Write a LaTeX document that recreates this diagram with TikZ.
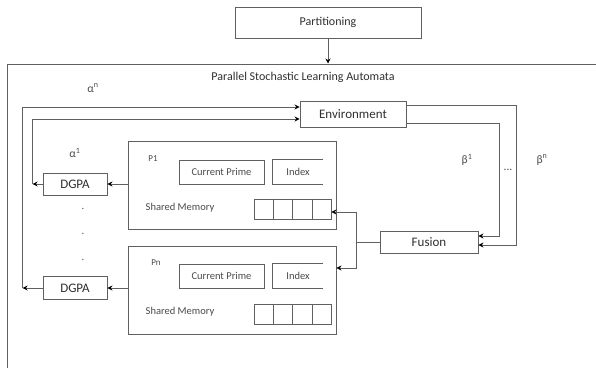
\documentclass[tikz,border=0pt]{standalone}
\usepackage{fontspec}
\setmainfont{Carlito}
\usetikzlibrary{arrows.meta,calc}
\definecolor{linegray}{HTML}{606060}
\definecolor{txt}{HTML}{303030}
\definecolor{txtl}{HTML}{4A4A4A}
\begin{document}
\begin{tikzpicture}[x=1pt,y=-1pt,
  box/.style={draw=linegray, line width=0.9pt, inner sep=0pt, text=txt},
  conn/.style={draw=linegray, line width=0.9pt},
  arr/.style={conn, -{Stealth[length=5pt,width=5pt,black]}},
  bigf/.style={font=\fontsize{13}{15}\selectfont},
  midf/.style={font=\fontsize{12}{14}\selectfont},
  smf/.style={font=\fontsize{10.5}{12}\selectfont, text=txtl},
  tinyf/.style={font=\fontsize{9}{10}\selectfont, text=txtl},
  lab/.style={font=\fontsize{11.5}{13}\selectfont, text=txtl, inner sep=0pt}]
\useasboundingbox (0,0) rectangle (596,367);
\fill[white] (0,0) rectangle (596,367);
% outer frame (right and bottom sides fall outside the picture)
\begin{scope}
  \clip (0,0) rectangle (596,367);
  \node[draw=linegray, line width=1pt, inner sep=0pt, minimum width=610pt, minimum height=320pt] (outer) at (312,224) {};
\end{scope}
\node[box, midf, minimum width=186pt, minimum height=31pt] (part) at (328,22.5) {Partitioning};
\node[text=txt, midf] (title) at (303,77) {Parallel Stochastic Learning Automata};
\node[box, bigf, minimum width=106pt, minimum height=26pt] (env) at (353,114) {Environment};
% P1
\node[box, minimum width=208pt, minimum height=88pt] (p1) at (232,185) {};
\node[tinyf] (p1lab) at (153,159) {P1};
\node[box, smf, minimum width=85pt, minimum height=24pt] (cp1) at (221.5,172) {Current Prime};
\node[smf, inner sep=0pt, minimum width=50pt, minimum height=24pt] (ix1) at (298,172) {Index};
\draw[conn] (ix1.north east) -- (ix1.north west) -- (ix1.south west) -- (ix1.south east);
\node[smf] (sm1) at (180,208) {Shared Memory};
\node[box, minimum width=77pt, minimum height=20pt] (mem1) at (292.5,209) {};
\foreach \f in {0.25,0.5,0.75}
  \draw[conn] ($(mem1.north west)!\f!(mem1.north east)$) -- ($(mem1.south west)!\f!(mem1.south east)$);
% Pn
\node[box, minimum width=208pt, minimum height=88pt] (pn) at (232,290) {};
\node[tinyf] (pnlab) at (156,263) {Pn};
\node[box, smf, minimum width=85pt, minimum height=24pt] (cpn) at (221.5,276) {Current Prime};
\node[smf, inner sep=0pt, minimum width=50pt, minimum height=24pt] (ixn) at (298,276) {Index};
\draw[conn] (ixn.north east) -- (ixn.north west) -- (ixn.south west) -- (ixn.south east);
\node[smf] (smn) at (180,312) {Shared Memory};
\node[box, minimum width=77pt, minimum height=20pt] (memn) at (292.5,314.5) {};
\foreach \f in {0.25,0.5,0.75}
  \draw[conn] ($(memn.north west)!\f!(memn.north east)$) -- ($(memn.south west)!\f!(memn.south east)$);
% DGPA
\node[box, bigf, minimum width=64pt, minimum height=22pt] (dgpa1) at (75,184) {DGPA};
\node[box, bigf, minimum width=64pt, minimum height=23pt] (dgpan) at (75,288) {DGPA};
\node[smf] (d1) at (83,209) {.};
\node[smf] (d2) at (83,234) {.};
\node[smf] (d3) at (83,260) {.};
% Fusion
\node[box, bigf, minimum width=98pt, minimum height=22pt] (fusion) at (429,242) {Fusion};
% labels
\node[lab] (an) at (93,88) {α\textsuperscript{n}};
\node[lab] (a1) at (75,153) {α\textsuperscript{1}};
\node[lab] (b1) at (467,160) {β\textsuperscript{1}};
\node[lab] (bn) at (542,160) {β\textsuperscript{n}};
\node[lab] (ell) at (508,170) {...};
% connectors
\draw[arr] (part.south) -- (part.south |- outer.north);
\draw[arr] (dgpa1.east -| p1.west) -- (dgpa1.east);
\draw[arr] (dgpan.east -| pn.west) -- (dgpan.east);
\coordinate (c1) at ($(dgpa1.west)+(-10,0)$);
\coordinate (cn) at ($(dgpan.west)+(-20,0)$);
\draw[arr] (dgpa1.west) -- (c1);
\draw[arr] (dgpan.west) -- (cn);
\draw[arr] (c1) |- ([yshift=-5pt]env.west);
\draw[arr] (cn) |- ([yshift=7pt]env.west);
\coordinate (eo) at ([yshift=9pt]env.east);
\coordinate (ei) at ([yshift=-9pt]env.east);
\coordinate (fo) at ([yshift=-3pt]fusion.east);
\coordinate (fi) at ([yshift=6pt]fusion.east);
\coordinate (ro) at (516,0);
\coordinate (ri) at (499,0);
\draw[arr] (eo) -- (eo -| ro) -- (ro |- fo) -- (fo);
\draw[arr] (ei) -- (ei -| ri) -- (ri |- fi) -- (fi);
\coordinate (fj) at ($(fusion.west)+(-23,0)$);
\draw[conn] (fusion.west) -- (fj);
\draw[arr] (fj) |- ([yshift=-3pt]mem1.east);
\draw[arr] (fj) |- ([yshift=22pt]pn.east);
\end{tikzpicture}
\end{document}
